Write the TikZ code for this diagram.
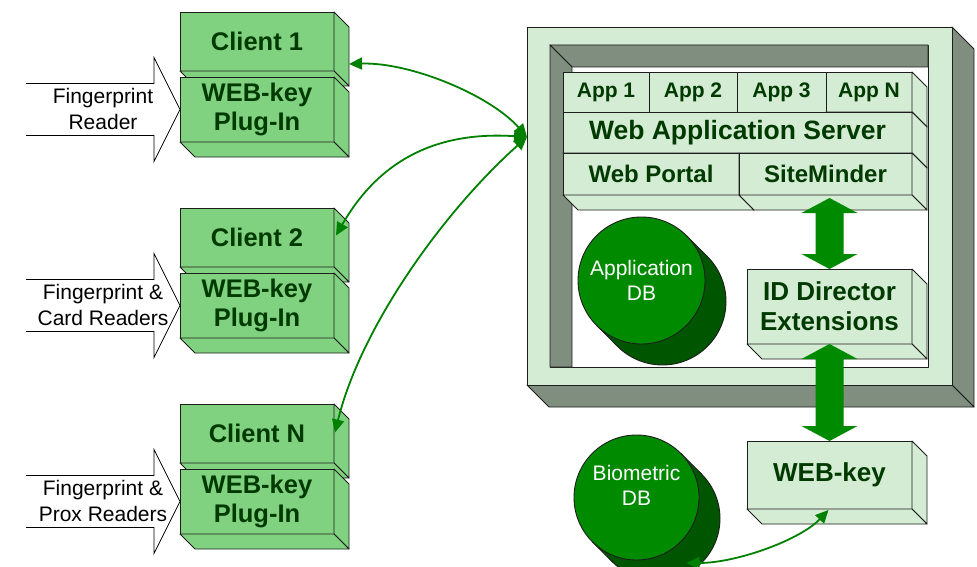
\documentclass[tikz,border=0pt]{standalone}
\usepackage{fontspec}
\setmainfont{Liberation Sans}
\usetikzlibrary{calc,arrows.meta}
\definecolor{cgreen}{RGB}{128,210,128}
\definecolor{lgreen}{RGB}{212,235,212}
\definecolor{ggreen}{RGB}{128,142,128}
\definecolor{dbgreen}{RGB}{0,138,0}
\definecolor{dbdark}{RGB}{0,85,0}
\definecolor{txtgreen}{RGB}{0,58,0}
\definecolor{linkgreen}{RGB}{0,128,0}
\definecolor{edge}{RGB}{30,30,30}
\newcommand{\boxsides}[3]{%
  \filldraw[face, fill=#3] (#1.north east) -- ++(#2,#2) -- ($(#1.south east)+(#2,#2)$) -- (#1.south east) -- cycle;
  \filldraw[face, fill=#3] (#1.south west) -- (#1.south east) -- ++(#2,#2) -- ($(#1.south west)+(#2,#2)$) -- cycle;
}
\newcommand{\dblarrow}[2]{%
  \fill[bigarrow] (#1) -- ++(28,15) -- ++(-14,0) -- ($(#2)+(14,-15)$) -- ++(14,0) -- (#2) -- ++(-28,-15) -- ++(14,0) -- ($(#1)+(-14,15)$) -- ++(-14,0) -- cycle;
}
\newcommand{\clientstack}[4]{%
  \node[clientbox, minimum height=59pt] (c#1) at (257,#2+29.5) {#3};
  \boxsides{c#1}{15}{cgreen}
  \node[clientbox, minimum height=65pt] (p#1) at (257,#2+97.5) {WEB-key\\Plug-In};
  \boxsides{p#1}{15}{cgreen}
  \filldraw[readerarrow] ($(p#1.west)+(-154,-26)$) -- ++(128,0) -- ++(0,-26) -- (p#1.west) -- ++(-26,52) -- ++(0,-26) -- ++(-128,0);
  \node[readertext] (r#1) at ($(p#1.west)+(-77,-1)$) {#4};
}
\begin{document}
\begin{tikzpicture}[x=1pt,y=-1pt,
  face/.style={draw=edge, line width=0.9pt, line join=round},
  clientbox/.style={face, fill=cgreen, minimum width=154pt, inner sep=0pt, outer sep=0pt, text=txtgreen, align=center, font=\fontsize{25.5}{29}\selectfont\bfseries},
  srvbox/.style={face, fill=lgreen, inner sep=0pt, outer sep=0pt, text=txtgreen, align=center},
  readerarrow/.style={draw=black, fill=white, line width=0.8pt, line join=miter},
  readertext/.style={align=center, font=\fontsize{21}{26}\selectfont, text=black, inner sep=0pt},
  link/.style={draw=linkgreen, line width=1.8pt, arrows={Triangle[length=13pt,width=12pt]-Triangle[length=13pt,width=12pt]}},
  bigarrow/.style={fill=dbgreen},
  dbfront/.style={circle, draw=edge, line width=0.9pt, fill=dbgreen, inner sep=0pt, outer sep=0pt},
  dbtext/.style={align=center, text=white, font=\fontsize{21}{25}\selectfont, inner sep=0pt}
]
\path[use as bounding box, fill=white] (0,0) rectangle (977,567);

% ---------- server frame ----------
\node[minimum width=425pt, minimum height=358pt, inner sep=0pt, outer sep=0pt] (frame) at (739.5,206) {};
\coordinate (holeNW) at (550,45);
\coordinate (holeNE) at (928,45);
\coordinate (holeSW) at (550,367);
\coordinate (holeSE) at (928,367);
\filldraw[face, fill=ggreen] (frame.north east) -- ++(22,22) -- ($(frame.south east)+(22,22)$) -- (frame.south east) -- cycle;
\filldraw[face, fill=ggreen] (frame.south west) -- (frame.south east) -- ++(22,22) -- ($(frame.south west)+(22,22)$) -- cycle;
\fill[lgreen, even odd rule] (frame.north west) rectangle (frame.south east) (holeNW) rectangle (holeSE);
\fill[white] (holeNW) rectangle (holeSE);
\draw[face] (frame.north west) rectangle (frame.south east);
\draw[face] (holeNW) rectangle (holeSE);
\filldraw[face, fill=ggreen] (holeNW) -- (holeNE) -- ++(0,22) -- ($(holeNW)+(22,22)$) -- cycle;
\filldraw[face, fill=ggreen] (holeNW) -- ($(holeNW)+(22,22)$) -- ($(holeSW)+(22,0)$) -- (holeSW) -- cycle;

% ---------- application stack ----------
\node[srvbox, minimum width=86pt, minimum height=40pt, font=\fontsize{21}{25}\selectfont\bfseries] (app1) at (606,92) {App 1};
\node[srvbox, minimum width=88pt, minimum height=40pt, font=\fontsize{21}{25}\selectfont\bfseries] (app2) at (693,92) {App 2};
\node[srvbox, minimum width=89pt, minimum height=40pt, font=\fontsize{21}{25}\selectfont\bfseries] (app3) at (781.5,92) {App 3};
\node[srvbox, minimum width=86pt, minimum height=40pt, font=\fontsize{21}{25}\selectfont\bfseries] (appN) at (869,92) {App N};
\boxsides{appN}{15}{lgreen}
\node[srvbox, minimum width=349pt, minimum height=41pt, font=\fontsize{26.5}{30}\selectfont\bfseries] (was) at (737.5,132.5) {Web Application Server};
\boxsides{was}{15}{lgreen}
\node[srvbox, minimum width=176pt, minimum height=42pt, font=\fontsize{24}{28}\selectfont\bfseries] (wp) at (651,174) {Web Portal};
\boxsides{wp}{15}{lgreen}
\node[srvbox, minimum width=173pt, minimum height=42pt, font=\fontsize{24}{28}\selectfont\bfseries] (sm) at (825.5,174) {SiteMinder};
\boxsides{sm}{15}{lgreen}

% ---------- ID Director and WEB-key ----------
\node[srvbox, minimum width=165pt, minimum height=75pt, font=\fontsize{26}{30}\selectfont\bfseries] (idd) at (829.5,306.5) {ID Director\\Extensions};
\boxsides{idd}{15}{lgreen}
\node[srvbox, minimum width=165pt, minimum height=68pt, font=\fontsize{26}{30}\selectfont\bfseries] (wk) at (829.5,475) {WEB-key};
\boxsides{wk}{15}{lgreen}

\path (idd.north |- sm.south) ++(0,3) coordinate (t1);
\dblarrow{t1}{idd.north}
\dblarrow{idd.south}{wk.north}

% ---------- databases ----------
\coordinate (adbc) at (641.5,280.5);
\filldraw[face, fill=dbdark] ($(adbc)+(21,21)$) circle[radius=63.5pt];
\fill[dbdark] ($(adbc)+(44.9,-44.9)$) -- ++(21,21) -- ($(adbc)+(-23.9,65.9)$) -- ($(adbc)+(-44.9,44.9)$) -- cycle;
\draw[face] ($(adbc)+(44.9,-44.9)$) -- ++(21,21);
\draw[face] ($(adbc)+(-44.9,44.9)$) -- ++(21,21);
\node[dbfront, minimum size=127pt] (adb) at (adbc) {};
\node[dbtext] (adbt) at (adbc) {Application\\DB};

\coordinate (bdbc) at (636.5,497.5);
\filldraw[face, fill=dbdark] ($(bdbc)+(21,21)$) circle[radius=62.5pt];
\fill[dbdark] ($(bdbc)+(44.2,-44.2)$) -- ++(21,21) -- ($(bdbc)+(-23.2,65.2)$) -- ($(bdbc)+(-44.2,44.2)$) -- cycle;
\draw[face] ($(bdbc)+(44.2,-44.2)$) -- ++(21,21);
\draw[face] ($(bdbc)+(-44.2,44.2)$) -- ++(21,21);
\node[dbfront, minimum size=125pt] (bdb) at (bdbc) {};
\node[dbtext] (bdbt) at ($(bdbc)+(0,-12.5)$) {Biometric\\DB};

% ---------- clients ----------
\clientstack{1}{12}{Client 1}{Fingerprint\\Reader}
\clientstack{2}{208}{Client 2}{Fingerprint \&\\Card Readers}
\clientstack{N}{404}{Client N}{Fingerprint \&\\Prox Readers}

% ---------- links ----------
\coordinate (A) at ($(frame.north west)+(0,110)$);
\draw[link] (A) .. controls +(-37,-42) and +(61,-2) .. ($(c1.south east)+(15,-7)$);
\draw[link] (A) .. controls +(-77,-5) and +(49,-85.5) .. ($(c2.east)+(2,-2)$);
\draw[link] (A) .. controls +(-87,78) and +(25,-102.5) .. ($(cN.east)+(1,-1)$);
\draw[link] ($(bdbc)+(50,65.5)$) .. controls +(50,0) and +(-28.5,30) .. ($(wk.south)+(-1,1)$);
\end{tikzpicture}
\end{document}
